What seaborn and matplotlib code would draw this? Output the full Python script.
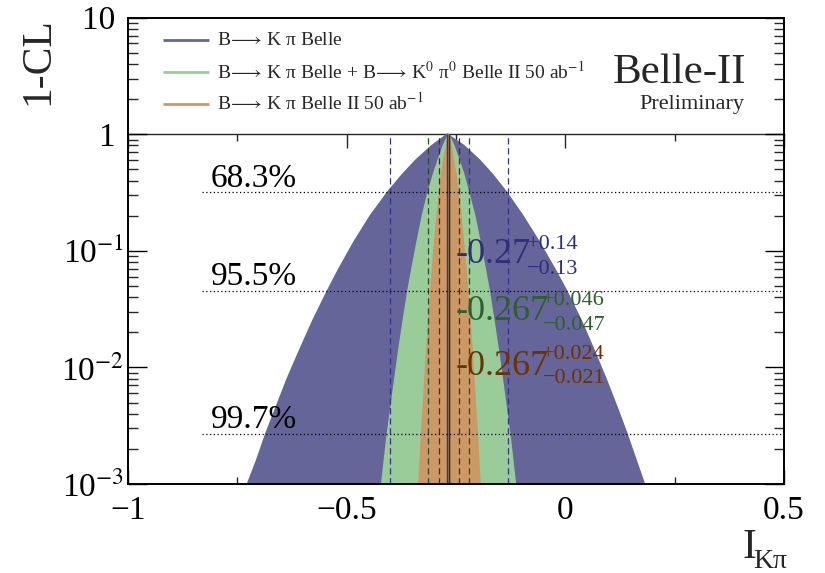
import numpy as np
import pandas as pd
import matplotlib
matplotlib.use("Agg")
import matplotlib.pyplot as plt
import matplotlib.ticker as mticker
import seaborn as sns

# 1-CL levels at which the edges of each scan are tabulated
cl_levels = [1.0, 0.8, 0.6, 0.45, 0.317, 0.2, 0.12, 0.07, 0.0455, 0.025,
             0.014, 0.008, 0.0045, 0.0027, 0.0016, 0.001]

# B -> K pi Belle
belle_left = [-0.270, -0.305, -0.342, -0.373, -0.407, -0.446, -0.483, -0.518,
              -0.544, -0.578, -0.608, -0.636, -0.662, -0.685, -0.706, -0.727]
belle_right = [-0.270, -0.232, -0.196, -0.166, -0.134, -0.097, -0.060, -0.024,
               0.003, 0.037, 0.066, 0.093, 0.119, 0.141, 0.162, 0.181]

# B -> K pi Belle + B -> K0 pi0 Belle II 50 ab-1
combo_left = [-0.267, -0.279, -0.291, -0.302, -0.314, -0.327, -0.339, -0.351,
              -0.360, -0.371, -0.381, -0.390, -0.399, -0.407, -0.414, -0.420]
combo_right = [-0.267, -0.255, -0.243, -0.232, -0.221, -0.207, -0.195, -0.183,
               -0.174, -0.163, -0.153, -0.144, -0.135, -0.127, -0.120, -0.114]

# B -> K pi Belle II 50 ab-1
b2_left = [-0.267, -0.272, -0.278, -0.283, -0.288, -0.293, -0.299, -0.304,
           -0.308, -0.313, -0.317, -0.321, -0.325, -0.329, -0.332, -0.335]
b2_right = [-0.267, -0.261, -0.256, -0.250, -0.245, -0.239, -0.233, -0.227,
            -0.223, -0.218, -0.213, -0.209, -0.205, -0.201, -0.198, -0.195]

arrow = r"$\!\longrightarrow\!$"
scan_names = [f"B{arrow} K π Belle",
              f"B{arrow} K π Belle + B{arrow} K$^{{0}}$ π$^{{0}}$ Belle II 50 ab$^{{-1}}$",
              f"B{arrow} K π Belle II 50 ab$^{{-1}}$"]
central = [-0.27, -0.267, -0.267]
err_plus = [0.14, 0.046, 0.024]
err_minus = [0.13, 0.047, 0.021]

cl_lines = [0.317, 0.0455, 0.0027]
cl_names = ["68.3%", "95.5%", "99.7%"]

x_ticks = [-1, -0.5, 0, 0.5]
x_ticklabels = ["\u22121", "\u22120.5", "0", "0.5"]
y_ticks = [1e-3, 1e-2, 1e-1, 1, 10]
y_ticklabels = [r"10$^{-3}$", r"10$^{-2}$", r"10$^{-1}$", "1 ", "10 "]

fill_colors = ["#656599", "#99cc99", "#cc9966"]
text_colors = ["#2e2e7c", "#2f5f2f", "#6b3300"]
dash_colors = ["#333388", "#2a4a2a", "#4a2a10"]

sns.set_theme(style="ticks")
plt.rcParams["font.family"] = ["Liberation Serif", "DejaVu Serif"]
plt.rcParams["mathtext.fontset"] = "stix"
plt.rcParams["mathtext.default"] = "rm"

fig = plt.figure(figsize=(8.25, 5.73), dpi=100)
ax = fig.add_axes([128 / 825, 1 - 484 / 573, 656 / 825, 466.4 / 573])
ax.set_facecolor("white")
ax.set_yscale("log")
ax.set_xlim(-1, 0.5)
ax.set_ylim(1e-3, 10)

# filled 1-CL scans, widest first
scans = [(belle_left, belle_right), (combo_left, combo_right), (b2_left, b2_right)]
for i, (lft, rgt) in enumerate(scans):
    xs = list(lft) + list(rgt)[::-1]
    ys = list(cl_levels) + list(cl_levels)[::-1]
    ax.fill(xs, ys, color=fill_colors[i], lw=0, zorder=1 + 0.1 * i)
    df = pd.DataFrame({"x": xs, "p": ys})
    sns.lineplot(data=df, x="x", y="p", sort=False, estimator=None,
                 color=fill_colors[i], lw=1.0, ax=ax, zorder=1.05 + 0.1 * i)

# central values and one-sigma intervals
for i in range(3):
    lo = central[i] - err_minus[i]
    hi = central[i] + err_plus[i]
    ax.vlines([lo, hi], 1e-3, 1, colors=dash_colors[i], lw=0.9,
              linestyles=(0, (5, 3)), zorder=1.5)
    ax.vlines(central[i], 1e-3, 1, colors=dash_colors[i], lw=1.0, zorder=1.6)

# confidence level guides
for lvl in cl_lines:
    ax.hlines(lvl, -0.83, 0.5, colors="black", lw=0.9,
              linestyles=(0, (1, 2)), zorder=1.7)
for ypos, name in zip([0.6374, 0.4267, 0.1201], cl_names):
    ax.text(0.1261, ypos, name, transform=ax.transAxes, fontsize=24,
            va="baseline", ha="left", color="black", zorder=3)

# result labels
main_pos = [(0.5, 0.4738), (0.5, 0.3516), (0.5, 0.2337)]
sup_pos = [(0.6082, 0.5039), (0.6316, 0.3838), (0.6316, 0.268)]
sub_pos = [(0.6078, 0.4503), (0.6331, 0.3302), (0.6331, 0.2166)]
for i in range(3):
    ax.text(*main_pos[i], f"{central[i]:g}", transform=ax.transAxes,
            fontsize=26, color=text_colors[i], va="baseline", zorder=3)
    ax.text(*sup_pos[i], f"+{err_plus[i]:g}", transform=ax.transAxes,
            fontsize=16, color=text_colors[i], va="baseline", zorder=3)
    ax.text(*sub_pos[i], f"\u2212{err_minus[i]:g}", transform=ax.transAxes,
            fontsize=16, color=text_colors[i], va="baseline", zorder=3)

# legend panel
handle_y = [0.952, 0.884, 0.8147]
label_y = [0.9413, 0.870, 0.8019]
for i in range(3):
    ax.plot([0.0538, 0.1239], [handle_y[i]] * 2, transform=ax.transAxes,
            color=fill_colors[i], lw=2, solid_capstyle="butt", zorder=3)
    ax.text(0.1357, label_y[i], scan_names[i], transform=ax.transAxes,
            fontsize=14, va="baseline", ha="left", zorder=3)
ax.text(0.942, 0.8604, "Belle-II", transform=ax.transAxes, fontsize=31,
        ha="right", va="baseline")
ax.text(0.939, 0.804, "Preliminary", transform=ax.transAxes, fontsize=16,
        ha="right", va="baseline")

# axes styling
for s in ax.spines.values():
    s.set_linewidth(1.4)
    s.set_color("black")
ax.xaxis.set_major_locator(mticker.FixedLocator(x_ticks))
ax.xaxis.set_major_formatter(mticker.FixedFormatter(x_ticklabels))
ax.xaxis.set_minor_locator(mticker.MultipleLocator(0.25))
ax.yaxis.set_major_locator(mticker.FixedLocator(y_ticks))
ax.yaxis.set_major_formatter(mticker.FixedFormatter(y_ticklabels))
ax.yaxis.set_minor_locator(mticker.LogLocator(base=10, subs=np.arange(2, 10)))
ax.yaxis.set_minor_formatter(mticker.NullFormatter())
ax.tick_params(axis="x", which="major", direction="in", length=10, width=1,
               bottom=True, top=False, labelsize=24, pad=8, colors="black")
ax.tick_params(axis="x", which="minor", direction="in", length=5, width=1,
               bottom=True, top=False)
ax.tick_params(axis="y", which="major", direction="in", length=14, width=1,
               left=True, right=True, labelsize=24, pad=3, colors="black")
ax.tick_params(axis="y", which="minor", direction="in", length=7, width=1,
               left=True, right=True)

# divider between legend panel and plotting region, with its own x ticks
sec = ax.secondary_xaxis(0.75)
sec.xaxis.set_major_locator(mticker.FixedLocator(x_ticks))
sec.xaxis.set_minor_locator(mticker.MultipleLocator(0.25))
sec.tick_params(axis="x", which="major", direction="in", length=10, width=1,
                labeltop=False, labelbottom=False)
sec.tick_params(axis="x", which="minor", direction="in", length=5, width=1)
for s in sec.spines.values():
    s.set_linewidth(1.0)

# axis titles
ax.set_xlabel("")
ax.text(0.936, -0.1587, "I", transform=ax.transAxes, fontsize=30,
        ha="left", va="baseline")
ax.text(0.9527, -0.180, "Kπ", transform=ax.transAxes, fontsize=20,
        ha="left", va="baseline")
ax.set_ylabel("1-CL", fontsize=30, loc="top")
ax.yaxis.set_label_coords(-0.108, 1.0)

fig.savefig("out.png", dpi=100)
